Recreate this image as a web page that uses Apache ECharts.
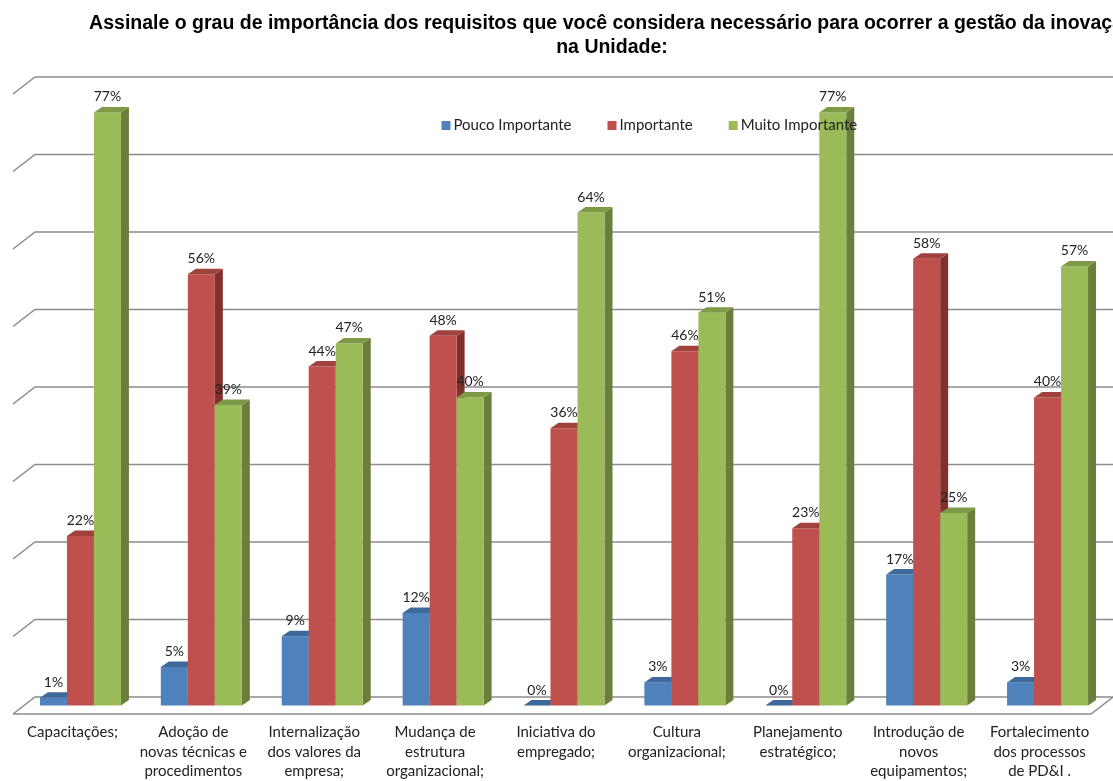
<!DOCTYPE html>
<html>
<head>
<meta charset="utf-8">
<script src="https://cdn.jsdelivr.net/npm/echarts@6/dist/echarts.min.js"></script>
<style>
  html, body { margin: 0; padding: 0; background: #ffffff; }
  #chart { width: 1113px; height: 781px; }
</style>
</head>
<body>
<div id="chart"></div>
<script>
// Survey answers: share of respondents per requirement and importance level
const categories = [
  'Capacitações;',
  'Adoção de\nnovas técnicas e\nprocedimentos',
  'Internalização\ndos valores da\nempresa;',
  'Mudança de\nestrutura\norganizacional;',
  'Iniciativa do\nempregado;',
  'Cultura\norganizacional;',
  'Planejamento\nestratégico;',
  'Introdução de\nnovos\nequipamentos;',
  'Fortalecimento\ndos processos\nde PD&I .'
];
const seriesNames = ['Pouco Importante', 'Importante', 'Muito Importante'];
const poucoImportante = [1, 5, 9, 12, 0, 3, 0, 17, 3];
const importante = [22, 56, 44, 48, 36, 46, 23, 58, 40];
const muitoImportante = [77, 39, 47, 40, 64, 51, 77, 25, 57];
const gridTicks = [0, 10, 20, 30, 40, 50, 60, 70, 80];

const titleText = 'Assinale o grau de importância dos requisitos que você considera necessário para ocorrer a gestão da inovação\nna Unidade:';

// front, top, side shades for each series
const palette = [
  { front: '#4F81BD', top: '#3E6899', side: '#385D8A' },
  { front: '#C0504D', top: '#A0413E', side: '#82302E' },
  { front: '#9BBB59', top: '#7F9A47', side: '#6A7F3B' }
];

const BAR_W = 27;      // width of the front face
const DEPTH_X = 8;     // 3D depth offset
const DEPTH_Y = 5.5;
const WALL_DX = 22;    // floor/wall perspective slant
const WALL_DY = 17;

function barGeometry(api, idx) {
  const cat = api.value(0);
  const val = api.value(1);
  const top = api.coord([cat, val]);
  const base = api.coord([cat, 0]);
  const x0 = top[0] + (idx - 1) * BAR_W - BAR_W / 2;
  return { val: val, x0: x0, x1: x0 + BAR_W, yt: top[1], yb: base[1] };
}

function makeBarSeries(idx, values) {
  const col = palette[idx];
  return {
    type: 'custom',
    name: seriesNames[idx],
    xAxisIndex: 0,
    yAxisIndex: 0,
    clip: false,
    z: 2,
    itemStyle: { color: col.front },
    data: values.map((v, i) => [i, v]),
    renderItem: function (params, api) {
      const g = barGeometry(api, idx);
      const { x0, x1, yt, yb } = g;
      return {
        type: 'group',
        children: [
          {
            type: 'polygon',
            shape: { points: [[x1, yt], [x1 + DEPTH_X, yt - DEPTH_Y], [x1 + DEPTH_X, yb - DEPTH_Y], [x1, yb]] },
            style: { fill: col.side }
          },
          {
            type: 'rect',
            shape: { x: x0, y: yt, width: BAR_W, height: Math.max(yb - yt, 0) },
            style: { fill: col.front }
          },
          {
            type: 'polygon',
            shape: { points: [[x0, yt], [x1, yt], [x1 + DEPTH_X, yt - DEPTH_Y], [x0 + DEPTH_X, yt - DEPTH_Y]] },
            style: { fill: col.top }
          }
        ]
      };
    }
  };
}

// value labels sit above every bar, on top of all bar faces
function makeLabelSeries(idx, values) {
  return {
    type: 'custom',
    xAxisIndex: 0,
    yAxisIndex: 0,
    clip: false,
    silent: true,
    z: 3,
    data: values.map((v, i) => [i, v]),
    renderItem: function (params, api) {
      const g = barGeometry(api, idx);
      return {
        type: 'text',
        style: {
          text: g.val + '%',
          x: (g.x0 + g.x1) / 2,
          y: g.yt - 15.5,
          align: 'center',
          verticalAlign: 'middle',
          fill: '#222222',
          font: '14px Lato'
        }
      };
    }
  };
}

const chart = echarts.init(document.getElementById('chart'), null, { renderer: 'canvas' });

chart.setOption({
  backgroundColor: '#ffffff',
  animation: false,
  graphic: [{
    type: 'text',
    x: 612,
    y: 12,
    z: 10,
    style: {
      text: titleText,
      align: 'center',
      verticalAlign: 'top',
      fill: '#000000',
      font: 'bold 19.5px "Liberation Sans", Arial, sans-serif',
      lineHeight: 23.5
    }
  }],
  legend: {
    data: seriesNames,
    left: 436.5,
    top: 113,
    z: 10,
    icon: 'rect',
    itemWidth: 9,
    itemHeight: 9,
    itemGap: 36,
    textStyle: { fontFamily: 'Lato', fontSize: 15, color: '#222222', padding: [0, 0, 0, -2] }
  },
  grid: [
    // front plane of the bars
    { left: 20, right: 5, top: 89.3, bottom: 73, containLabel: false },
    // back wall with gridlines
    { left: 35, width: 1087, top: 77, bottom: 84, containLabel: false }
  ],
  xAxis: [
    {
      type: 'category',
      gridIndex: 0,
      data: categories,
      axisLine: { show: false },
      axisTick: { show: false },
      splitLine: { show: false },
      axisLabel: {
        interval: 0,
        margin: 17,
        fontFamily: 'Lato',
        fontSize: 15,
        lineHeight: 19.5,
        color: '#222222',
        padding: [0, 16, 0, 0]
      }
    },
    { type: 'value', gridIndex: 1, min: 0, max: 1, show: false }
  ],
  yAxis: [
    { type: 'value', gridIndex: 0, min: 0, max: 80, interval: 10, show: false },
    { type: 'value', gridIndex: 1, min: 0, max: 80, interval: 10, show: false }
  ],
  series: [
    {
      type: 'custom',
      name: 'wall',
      xAxisIndex: 1,
      yAxisIndex: 1,
      clip: false,
      silent: true,
      z: 1,
      data: gridTicks.map(v => [0, v]),
      renderItem: function (params, api) {
        const v = api.value(1);
        const p = api.coord([0, v]);
        const r = api.coord([1, v]);
        const lineStyle = { stroke: '#8C8C8C', lineWidth: 1.5, fill: null };
        const children = [{
          type: 'polyline',
          shape: { points: [[p[0] - WALL_DX, p[1] + WALL_DY], p, r] },
          style: lineStyle
        }];
        if (v === 0) {
          children.push({
            type: 'polyline',
            shape: { points: [[p[0] - WALL_DX, p[1] + WALL_DY], [r[0] - WALL_DX, r[1] + WALL_DY], r] },
            style: lineStyle
          });
        }
        return { type: 'group', children: children };
      }
    },
    makeBarSeries(0, poucoImportante),
    makeBarSeries(1, importante),
    makeBarSeries(2, muitoImportante),
    makeLabelSeries(0, poucoImportante),
    makeLabelSeries(1, importante),
    makeLabelSeries(2, muitoImportante)
  ]
});
</script>
</body>
</html>
